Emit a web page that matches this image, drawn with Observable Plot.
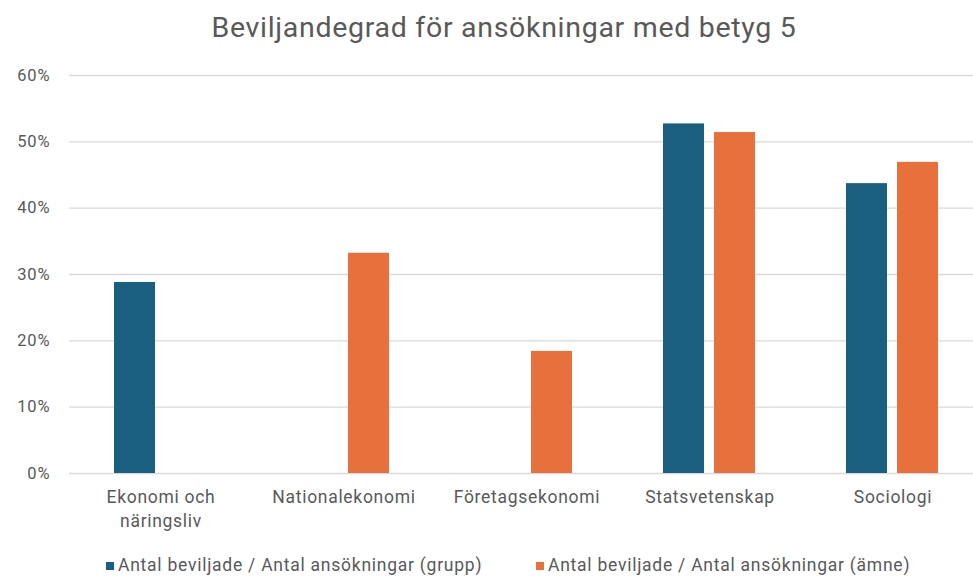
<!DOCTYPE html>
<html>
<head>
<meta charset="utf-8">
<script src="https://cdn.jsdelivr.net/npm/d3@7"></script>
<script src="https://cdn.jsdelivr.net/npm/@observablehq/plot@0.6"></script>
<style>
  html, body { margin: 0; padding: 0; background: #fff; }
  #wrap { position: relative; width: 973px; height: 577px; overflow: hidden; font-family: Roboto, "Noto Sans", sans-serif; }
  #title { position: absolute; left: 0; width: 1008px; top: 11px; text-align: center; font-size: 28.5px; letter-spacing: 0.7px; color: #595959; white-space: nowrap; }
  #legend { position: absolute; top: 555px; left: 0; width: 973px; font-size: 17.5px; letter-spacing: 0.75px; color: #595959; }
  .item { position: absolute; white-space: nowrap; }
  .sw { display: inline-block; width: 8px; height: 8px; margin-right: 4px; vertical-align: 1px; }
  #chart { position: absolute; left: 0; top: 0; }
  #chart svg g[aria-label="fx-axis tick label"] text { letter-spacing: 0.7px; }
  #chart svg g[aria-label="y-axis tick label"] text { letter-spacing: 0.9px; }
</style>
</head>
<body>
<div id="wrap">
  <div id="chart"></div>
  <div id="title">Beviljandegrad för ansökningar med betyg 5</div>
  <div id="legend"></div>
</div>
<script>
const categories = ["Ekonomi och näringsliv", "Nationalekonomi", "Företagsekonomi", "Statsvetenskap", "Sociologi"];
const categoryLabels = ["Ekonomi och\nnäringsliv", "Nationalekonomi", "Företagsekonomi", "Statsvetenskap", "Sociologi"];
const seriesNames = ["Antal beviljade / Antal ansökningar (grupp)", "Antal beviljade / Antal ansökningar (ämne)"];
const seriesColors = ["#1b5f80", "#e8703d"];
const grupp = [0.288, null, null, 0.527, 0.437];
const amne = [null, 0.332, 0.184, 0.514, 0.469];
const yTicks = [0, 0.1, 0.2, 0.3, 0.4, 0.5, 0.6];

const data = [];
categories.forEach((c, i) => {
  if (grupp[i] != null) data.push({cat: c, series: seriesNames[0], value: grupp[i]});
  if (amne[i] != null) data.push({cat: c, series: seriesNames[1], value: amne[i]});
});

const chart = Plot.plot({
  width: 973,
  height: 577,
  marginTop: 75,
  marginBottom: 104,
  marginLeft: 68,
  marginRight: 0,
  style: {fontFamily: "Roboto, 'Noto Sans', sans-serif", background: "transparent"},
  fx: {domain: categories, range: [68, 985], padding: 0},
  x: {domain: seriesNames, paddingInner: 0.19, paddingOuter: 0.86, axis: null},
  y: {domain: [0, 0.6], axis: null},
  color: {domain: seriesNames, range: seriesColors},
  marks: [
    Plot.gridY(yTicks, {stroke: "#d9d9d9", strokeOpacity: 1, strokeWidth: 1.3}),
    Plot.barY(data, {fx: "cat", x: "series", y: "value", fill: "series"}),
    Plot.axisY(yTicks, {tickSize: 0, tickPadding: 19, tickFormat: d => Math.round(d * 100) + "%", fontSize: 16.5, fill: "#595959", label: null}),
    Plot.axisFx({anchor: "bottom", tickSize: 0, tickPadding: 13, fontSize: 17.5, fill: "#595959", label: null,
      tickFormat: d => categoryLabels[categories.indexOf(d)], lineHeight: 1.35})
  ]
});
document.getElementById("chart").appendChild(chart);

const legend = document.getElementById("legend");
const lx = [106, 536];
seriesNames.forEach((s, i) => {
  const it = document.createElement("div");
  it.className = "item";
  it.style.left = lx[i] + "px";
  it.innerHTML = `<span class="sw" style="background:${seriesColors[i]}"></span>${s}`;
  legend.appendChild(it);
});
</script>
</body>
</html>
